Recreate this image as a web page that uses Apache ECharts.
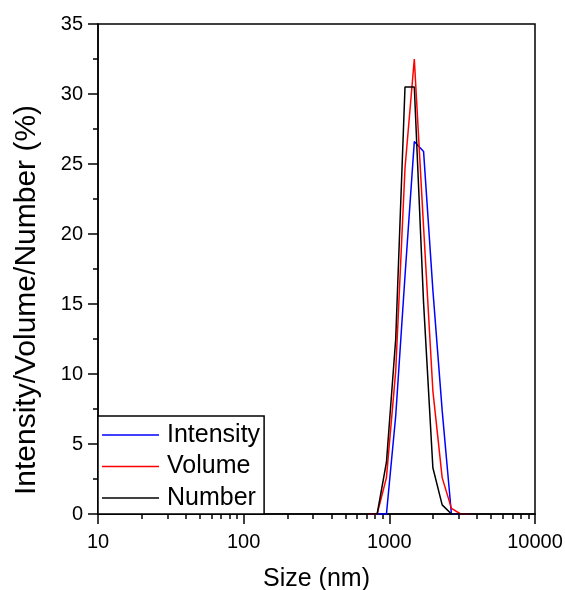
<!DOCTYPE html>
<html>
<head>
<meta charset="utf-8">
<script src="https://cdn.jsdelivr.net/npm/echarts@6/dist/echarts.min.js"></script>
<style>html,body{margin:0;padding:0;background:#fff;}#c{width:565px;height:590px;}</style>
</head>
<body>
<div id="c"></div>
<script>
// Size classes (nm)
const sizes = [712.4, 825, 955.4, 1106, 1281, 1484, 1718, 1990, 2305, 2669, 3091, 3580];
// Distributions (%)
const intensity = [0, 0, 0, 7.0, 17.0, 26.6, 25.9, 16.0, 7.4, 0, 0, 0];
const volume    = [0, 0, 2.6, 10.2, 24.7, 32.5, 20.5, 8.8, 2.6, 0.4, 0, 0];
const number    = [0, 0, 3.7, 12.5, 30.5, 30.5, 15.1, 3.3, 0.65, 0, 0, 0];
const seriesNames = ['Intensity', 'Volume', 'Number'];
const xMajorTicks = [10, 100, 1000, 10000];
const xMinorTicks = [20,30,40,50,60,70,80,90,200,300,400,500,600,700,800,900,2000,3000,4000,5000,6000,7000,8000,9000];

const pairs = (ys) => sizes.map((s, i) => [s, ys[i]]);
const FONT = 'Liberation Sans, Arial, sans-serif';
const chart = echarts.init(document.getElementById('c'), null, {renderer: 'canvas'});
chart.setOption({
  animation: false,
  backgroundColor: '#fff',
  grid: {left: 98, right: 30, top: 24, bottom: 76, outerBoundsMode: 'none', containLabel: false,
    show: true, borderColor: '#000', borderWidth: 1.5, backgroundColor: 'transparent'},
  xAxis: [{
    type: 'log', logBase: 10, min: 10, max: 10000, position: 'bottom',
    name: 'Size (nm)', nameLocation: 'middle', nameGap: 53,
    nameTextStyle: {fontFamily: FONT, fontSize: 25, color: '#000'},
    axisLine: {show: true, lineStyle: {color: '#000', width: 1.5}},
    axisTick: {show: true, length: 10, lineStyle: {color: '#000', width: 1.5}, customValues: xMajorTicks},
    axisLabel: {fontFamily: FONT, fontSize: 20, color: '#000', margin: 18, customValues: xMajorTicks,
      formatter: (v) => String(Math.round(v))},
    splitLine: {show: false}, minorTick: {show: false}
  }, {
    type: 'log', logBase: 10, min: 10, max: 10000, position: 'bottom',
    axisLine: {show: false},
    axisTick: {show: true, length: 5, lineStyle: {color: '#000', width: 1.5}, customValues: xMinorTicks},
    axisLabel: {show: false},
    splitLine: {show: false}
  }],
  yAxis: {
    type: 'value', min: 0, max: 35, interval: 5,
    name: 'Intensity/Volume/Number (%)', nameLocation: 'middle', nameGap: 56,
    nameTextStyle: {fontFamily: FONT, fontSize: 30, color: '#000', padding: [0, 62, 0, 0]},
    axisLine: {show: true, lineStyle: {color: '#000', width: 1.5}},
    axisTick: {show: true, length: 10, lineStyle: {color: '#000', width: 1.5}},
    minorTick: {show: true, splitNumber: 2, length: 5, lineStyle: {color: '#000', width: 1.5}},
    axisLabel: {fontFamily: FONT, fontSize: 20, color: '#000', margin: 15},
    splitLine: {show: false}
  },
  legend: {
    show: true, orient: 'vertical', left: 98, top: 416,
    data: seriesNames.map(n => ({name: n, icon: 'rect'})),
    backgroundColor: '#fff', borderColor: '#000', borderWidth: 1.5,
    padding: [4, 4, 1, 4], itemGap: 1.5, itemWidth: 57, itemHeight: 1.5,
    textStyle: {fontFamily: FONT, fontSize: 25, color: '#000', lineHeight: 30, padding: [0, 0, 0, 3]}
  },
  series: [
    {name: 'Intensity', type: 'line', data: pairs(intensity), showSymbol: false, symbol: 'none', lineStyle: {color: '#0000ff', width: 1.5}, itemStyle: {color: '#0000ff'}, z: 3},
    {name: 'Volume', type: 'line', data: pairs(volume), showSymbol: false, symbol: 'none', lineStyle: {color: '#ff0000', width: 1.5}, itemStyle: {color: '#ff0000'}, z: 4},
    {name: 'Number', type: 'line', data: pairs(number), showSymbol: false, symbol: 'none', lineStyle: {color: '#000000', width: 1.5}, itemStyle: {color: '#000000'}, z: 5}
  ]
});
</script>
</body>
</html>
